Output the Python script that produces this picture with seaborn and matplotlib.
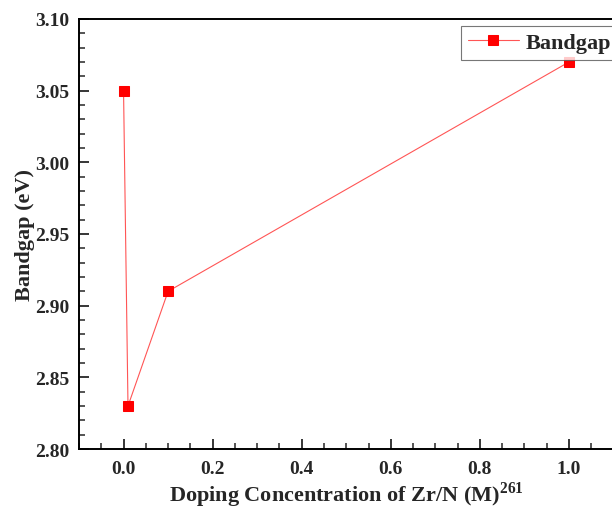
import matplotlib
matplotlib.use('Agg')
import matplotlib.pyplot as plt
import seaborn as sns

concentration = [0.0, 0.01, 0.1, 1.0]
bandgap       = [3.05, 2.83, 2.91, 3.07]
x_ticks       = [0.0, 0.2, 0.4, 0.6, 0.8, 1.0]
y_ticks       = [2.80, 2.85, 2.90, 2.95, 3.00, 3.05, 3.10]

sns.set_style('ticks')
plt.rcParams['font.family'] = ['Liberation Serif', 'DejaVu Serif']
plt.rcParams['font.weight'] = 'bold'
plt.rcParams['mathtext.fontset'] = 'custom'
plt.rcParams['mathtext.bf'] = 'Liberation Serif:bold'
plt.rcParams['mathtext.rm'] = 'Liberation Serif:bold'

fig = plt.figure(figsize=(6.12, 5.10), dpi=100)
ax = fig.add_axes([79 / 612, 60 / 510, 534.5 / 612, 430 / 510])

sns.lineplot(x=concentration, y=bandgap, ax=ax, color='#ff5555', linewidth=0.8,
             marker='s', markersize=7, markerfacecolor='red',
             markeredgecolor='red', label='Bandgap')

ax.set_xlim(-0.1, 1.1)
ax.set_ylim(2.80, 3.10)
ax.set_xticks(x_ticks)
ax.set_xticklabels([f'{t:.1f}' for t in x_ticks])
ax.set_yticks(y_ticks)
ax.set_yticklabels([f'{t:.2f}' for t in y_ticks])
ax.minorticks_on()
ax.tick_params(which='major', direction='in', length=7, width=1.3,
               labelsize=14, top=False, right=False)
ax.tick_params(axis='x', which='major', pad=8)
ax.tick_params(axis='y', which='major', pad=7)
ax.tick_params(which='minor', direction='in', length=4, width=1.1,
               top=False, right=False)
for lbl in ax.get_xticklabels() + ax.get_yticklabels():
    lbl.set_fontweight('bold')
for sp in ax.spines.values():
    sp.set_linewidth(1.4)
    sp.set_color('black')

ax.set_xlabel(r'Doping Concentration of Zr/N (M)$^{\mathbf{261}}$',
              fontsize=16, fontweight='bold', labelpad=1.5)
ax.set_ylabel('Bandgap (eV)', fontsize=16, fontweight='bold', labelpad=0)

leg = ax.legend(loc='upper right', bbox_to_anchor=(1.008, 0.984),
                fontsize=16, frameon=True, fancybox=False,
                handlelength=2.3, borderpad=0.3, handletextpad=0.3,
                borderaxespad=0.0)
leg.get_frame().set_edgecolor('#555555')
leg.get_frame().set_linewidth(0.8)
for t in leg.get_texts():
    t.set_fontweight('bold')

fig.savefig('out.png', dpi=100)
